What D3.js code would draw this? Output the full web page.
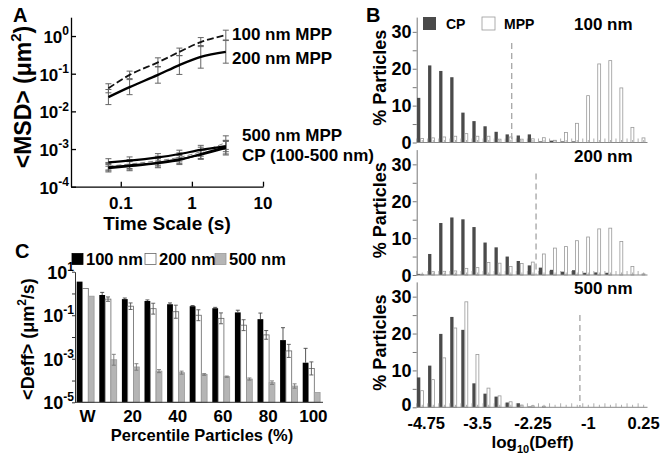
<!DOCTYPE html>
<html><head><meta charset="utf-8">
<script src="https://cdn.jsdelivr.net/npm/d3@7"></script>
<style>
body{margin:0;background:#fff}
svg{display:block}
text{font-family:"Liberation Sans",Arial,sans-serif;font-weight:bold;fill:#000}
</style>
</head><body>
<svg id="c" width="664" height="464"></svg>
<script>
// ---------------- Panel A data ----------------
const timeA = [0.067, 0.133, 0.333, 0.667, 1.333, 3.0];
const mpp100A = [0.041, 0.093, 0.2, 0.38, 0.69, 1.06];
const mpp100AErr = [0.12, 0.1, 0.12, 0.1, 0.12, 0.13];
const mpp200A = [0.024, 0.044, 0.093, 0.17, 0.28, 0.38];
const mpp200AErr = [0.2, 0.2, 0.22, 0.25, 0.3, 0.3];
const mpp500A = [0.00044, 0.00049, 0.0006, 0.00074, 0.00095, 0.0012];
const mpp500AErr = [0.1, 0.1, 0.1, 0.1, 0.12, 0.15];
const cpA1 = [0.00031, 0.00035, 0.00042, 0.00051, 0.00074, 0.00112];
const cpA2 = [0.00033, 0.00037, 0.00044, 0.00054, 0.0007, 0.00105];
const cpAErr = [0.1, 0.12, 0.12, 0.12, 0.12, 0.18];
const cpA3 = [0.00035, 0.0004, 0.00049, 0.0006, 0.00085, 0.00148];
const aYTicks = [1, 0.1, 0.01, 0.001, 0.0001];
const aYExp = ["0", "-1", "-2", "-3", "-4"];
const aXTicks = [0.1, 1, 10];
const aXLabels = ["0.1", "1", "10"];

// ---------------- Panel B data ----------------
const binCenters = [-4.75,-4.5,-4.25,-4,-3.75,-3.5,-3.25,-3,-2.75,-2.5,-2.25,-2,-1.75,-1.5,-1.25,-1,-0.75,-0.5,-0.25,0,0.25];
const bTickValues = [-4.75, -3.5, -2.25, -1, 0.25];
const bTickLabels = ["-4.75", "-3.5", "-2.25", "-1", "0.25"];
const cpB100 = [12.1,20.9,19.4,17.7,8.1,5.8,4.4,2.9,2.2,1.9,2.2,0.3,0.5,0.3,0.3,0,0,0,0,0,0];
const mppB100 = [1.1,1.25,1.5,1.7,2.4,1.7,1.7,0.9,1.5,0.9,1.0,1.3,0.6,2.7,5.2,12.7,21.3,22.2,14.8,4.1,1.25];
const cpB200 = [0.3,5.7,14.1,15.6,15.1,13.0,8.8,7.5,5.0,3.8,2.6,2.0,1.4,0.9,1.3,0.6,0.7,0.6,0,0,0];
const mppB200 = [0.2,0.9,1.0,1.1,1.8,2.0,3.4,3.2,2.3,3.1,3.5,5.7,7.3,7.7,9.3,10.3,12.5,12.7,9.1,2.3,0.3];
const cpB500 = [8.1,11.3,19.9,24.5,21.0,6.5,3.7,2.9,1.3,1.1,0.2,0,0,0,0,0,0,0,0,0,0];
const mppB500 = [4.5,7.5,13.4,21.5,28.6,14.3,5.2,3.1,1.5,0.6,0.4,0.3,0,0,0,0,0,0,0,0,0];
const bPanelNames = ["100 nm", "200 nm", "500 nm"];
const bCutoff = [-2.73, -2.18, -1.19];
const bCutoffTop = [27, 27.5, 25];
const bYTicks = [0, 10, 20, 30];
const bYMinor = [5, 15, 25];

// ---------------- Panel C data ----------------
const cCats = ["W","10","20","30","40","50","60","70","80","90","100"];
const cShownLabels = ["W","20","40","60","80","100"];
const c100 = [3.5,0.85,0.55,0.45,0.32,0.26,0.21,0.135,0.066,0.0072,0.00066];
const c200 = [1.7,0.55,0.26,0.2,0.145,0.1,0.072,0.035,0.0125,0.0023,0.00036];
const c500 = [0.75,0.0009,0.00042,0.00027,0.00023,0.00019,0.00015,0.000117,0.00008,0.000056,0.000028];
const c100Err = [0,0.12,0.05,0.05,0.06,0.03,0.04,0.1,0.28,0.57,0.66];
const c200Err = [0,0.1,0.15,0.25,0.3,0.25,0.25,0.25,0.2,0.3,0.3];
const c500Err = [0,0.25,0.15,0.07,0.07,0.04,0.03,0.05,0.08,0.1,0];
const cYTicks = [10, 0.1, 0.001, 0.00001];
const cYExp = ["1", "-1", "-3", "-5"];
const cYMinor = [1, 0.01, 0.0001];

const svg = d3.select("#c");
svg.append("rect").attr("width",664).attr("height",464).attr("fill","#fff");

function powLabel(sel, x, y, exp, fs, sfs){
  const t = sel.append("text").attr("x",x).attr("y",y).attr("text-anchor","end").attr("font-size",fs);
  t.append("tspan").text("10");
  t.append("tspan").attr("dy",-fs*0.45).attr("font-size",sfs).text(exp);
}
function styleAxis(g, color, w){
  g.selectAll("path,line").attr("stroke",color).attr("stroke-width",w);
  g.selectAll("text").remove();
}

// ================= Panel A =================
const gA = svg.append("g");
const xA = d3.scaleLog().domain([Math.pow(10,-1.7),10]).range([71,263]);
const yA = d3.scaleLog().domain([1e-4,Math.pow(10,0.5)]).range([186.7,17.2]);
gA.append("g").attr("transform","translate(71,0)")
  .call(d3.axisLeft(yA).tickValues(aYTicks).tickSize(-5).tickSizeOuter(0).tickFormat(""))
  .call(g=>styleAxis(g,"#000",1.3));
gA.append("g").attr("transform","translate(0,186.7)")
  .call(d3.axisBottom(xA).tickValues(aXTicks).tickSize(-5).tickSizeOuter(0).tickFormat(""))
  .call(g=>styleAxis(g,"#000",1.3));
aYTicks.forEach((v,i)=>powLabel(gA, 69, yA(v)+7, aYExp[i], 17, 12));
aXTicks.forEach((v,i)=>gA.append("text").attr("x",xA(v)).attr("y",208.5).attr("text-anchor","middle").attr("font-size",17).text(aXLabels[i]));
gA.append("text").attr("x",167).attr("y",230).attr("text-anchor","middle").attr("font-size",19).text("Time Scale (s)");
{
  const t = gA.append("text").attr("transform","translate(31,97) rotate(-90)").attr("text-anchor","middle").attr("font-size",23);
  t.append("tspan").text("<MSD> (\u03bcm");
  t.append("tspan").attr("dy",-10).attr("font-size",15).text("2");
  t.append("tspan").attr("dy",10).text(")");
}
gA.append("text").attr("x",13).attr("y",22).attr("font-size",20).text("A");

const seriesA = [
  {v: mpp100A, e: mpp100AErr, dash:"7,3", w:1.8, c:"#111"},
  {v: mpp200A, e: mpp200AErr, dash:null, w:2.4, c:"#000"},
  {v: cpA3, e: cpAErr, dash:"5,3", w:1, c:"#888"},
  {v: mpp500A, e: mpp500AErr, dash:null, w:2.2, c:"#000"},
  {v: cpA1, e: cpAErr, dash:null, w:2.2, c:"#000"},
  {v: cpA2, e: cpAErr, dash:null, w:1.6, c:"#000"}
];
const lineA = d3.line().x(d=>xA(d[0])).y(d=>yA(d[1])).curve(d3.curveMonotoneX);
seriesA.forEach(s=>{
  s.v.forEach((v,i)=>{
    const x = xA(timeA[i]);
    const y1 = yA(v*Math.pow(10,-s.e[i])), y2 = yA(v*Math.pow(10,s.e[i]));
    gA.append("line").attr("x1",x).attr("x2",x).attr("y1",y1).attr("y2",y2).attr("stroke","#666").attr("stroke-width",1);
    [y1,y2].forEach(y=>gA.append("line").attr("x1",x-3).attr("x2",x+3).attr("y1",y).attr("y2",y).attr("stroke","#666").attr("stroke-width",1));
  });
});
seriesA.forEach(s=>{
  gA.append("path").datum(timeA.map((t,i)=>[t,s.v[i]])).attr("d",lineA)
    .attr("fill","none").attr("stroke",s.c).attr("stroke-width",s.w)
    .attr("stroke-dasharray",s.dash);
});
gA.append("text").attr("x",232).attr("y",39.5).attr("font-size",17).text("100 nm MPP");
gA.append("text").attr("x",232).attr("y",63.5).attr("font-size",17).text("200 nm MPP");
gA.append("text").attr("x",242).attr("y",141).attr("font-size",17).text("500 nm MPP");
gA.append("text").attr("x",242).attr("y",161).attr("font-size",17).text("CP (100-500 nm)");

// ================= Panel B =================
const gB = svg.append("g");
const xB = d3.scaleLinear().domain([-4.875,0.375]).range([416.7,649.2]);
const bBottoms = [142.5, 275, 407.3];
const bData = [[cpB100,mppB100],[cpB200,mppB200],[cpB500,mppB500]];
bBottoms.forEach((bot,p)=>{
  const yB = d3.scaleLinear().domain([0,34]).range([bot, bot-125.4]);
  const g = gB.append("g");
  g.append("g").attr("transform","translate(416.7,0)")
    .call(d3.axisLeft(yB).tickValues(bYTicks.concat(bYMinor)).tickSize(4).tickSizeOuter(0).tickFormat(""))
    .call(a=>styleAxis(a,"#777",1));
  bYTicks.forEach(v=>g.append("text").attr("x",411.5).attr("y",yB(v)+(v===0&&p===2?3.5:6.5)).attr("text-anchor","end").attr("font-size",18).text(v));
  const [cp, mpp] = bData[p];
  cp.forEach((v,i)=>{ if(v>0) g.append("rect").attr("x",xB(binCenters[i]-0.125)+0.3).attr("width",3.3)
     .attr("y",yB(v)).attr("height",bot-yB(v)).attr("fill","#4a4a4a"); });
  mpp.forEach((v,i)=>{ if(v>0) g.append("rect").attr("x",xB(binCenters[i]-0.125)+3.9).attr("width",2.9)
     .attr("y",yB(v)).attr("height",bot-yB(v)).attr("fill","#fff").attr("stroke","#999").attr("stroke-width",0.8); });
  g.append("line").attr("x1",416.7).attr("x2",647.5).attr("y1",bot).attr("y2",bot).attr("stroke","#888").attr("stroke-width",1);
  binCenters.forEach(c=>{
    g.append("line").attr("x1",xB(c-0.125)).attr("x2",xB(c-0.125)).attr("y1",bot).attr("y2",bot-4).attr("stroke","#999").attr("stroke-width",0.8);
    g.append("line").attr("x1",xB(c)).attr("x2",xB(c)).attr("y1",bot).attr("y2",bot-2.5).attr("stroke","#999").attr("stroke-width",0.8);
  });
  g.append("line").attr("x1",xB(bCutoff[p])).attr("x2",xB(bCutoff[p])).attr("y1",yB(bCutoffTop[p])).attr("y2",bot)
    .attr("stroke","#aaa").attr("stroke-width",1.4).attr("stroke-dasharray","6,4");
  g.append("text").attr("x",574).attr("y",yB(34)+12.5).attr("font-size",17).text(bPanelNames[p]);
  g.append("text").attr("transform",`translate(386,${(bot+bot-125.4)/2-2}) rotate(-90)`).attr("text-anchor","middle").attr("font-size",18).text("% Particles");
});
bTickValues.forEach((v,i)=>gB.append("text").attr("x",xB(v)+(i===0?4:0)).attr("y",428.5).attr("text-anchor","middle").attr("font-size",16.5).text(bTickLabels[i]));
{
  const t = gB.append("text").attr("x",532.5).attr("y",447.5).attr("text-anchor","middle").attr("font-size",17);
  t.append("tspan").text("log");
  t.append("tspan").attr("dy",5).attr("font-size",11).text("10");
  t.append("tspan").attr("dy",-5).text("(Deff)");
}
gB.append("rect").attr("x",423).attr("y",17).attr("width",13).attr("height",13).attr("fill","#4a4a4a");
gB.append("text").attr("x",446).attr("y",28.5).attr("font-size",14).text("CP");
gB.append("rect").attr("x",482).attr("y",17).attr("width",13).attr("height",13).attr("fill","#fff").attr("stroke","#999").attr("stroke-width",0.8);
gB.append("text").attr("x",504).attr("y",28.5).attr("font-size",14).text("MPP");
gB.append("text").attr("x",366).attr("y",22).attr("font-size",20).text("B");

// ================= Panel C =================
const gC = svg.append("g");
const yC = d3.scaleLog().domain([1e-5,10]).range([402.3,271.7]);
const xC = d3.scaleBand().domain(cCats).range([76.7, 76.7+22.6*10+17.4]).paddingInner(0.23).paddingOuter(0);
const sub = xC.bandwidth()/3;
const cSeries = [
  {v:c100, e:c100Err, fill:"#000", stroke:"#000", ec:"#444", up:true},
  {v:c200, e:c200Err, fill:"#fff", stroke:"#666", ec:"#555", up:false},
  {v:c500, e:c500Err, fill:"#b5b5b5", stroke:"#9a9a9a", ec:"#777", up:false}
];
cSeries.forEach((s,k)=>{
  s.v.forEach((v,i)=>{
    const x = xC(cCats[i]) + k*sub;
    gC.append("rect").attr("x",x).attr("width",sub).attr("y",yC(v)).attr("height",yC(1e-5)-yC(v))
      .attr("fill",s.fill).attr("stroke",s.stroke).attr("stroke-width",k===0?0:0.8);
    if(s.e[i]>0){
      const cx = x+sub/2;
      const yt = yC(v*Math.pow(10,s.e[i])), yb = s.up ? yC(v) : yC(v*Math.pow(10,-s.e[i]));
      gC.append("line").attr("x1",cx).attr("x2",cx).attr("y1",yt).attr("y2",yb).attr("stroke",s.ec).attr("stroke-width",0.9);
      gC.append("line").attr("x1",cx-2).attr("x2",cx+2).attr("y1",yt).attr("y2",yt).attr("stroke",s.ec).attr("stroke-width",0.9);
      if(!s.up) gC.append("line").attr("x1",cx-2).attr("x2",cx+2).attr("y1",yb).attr("y2",yb).attr("stroke",s.ec).attr("stroke-width",0.9);
    }
  });
});
gC.append("g").attr("transform","translate(75,0)")
  .call(d3.axisLeft(yC).tickValues(cYTicks.concat(cYMinor)).tickSize(3).tickSizeOuter(0).tickFormat(""))
  .call(g=>styleAxis(g,"#333",1));
gC.append("line").attr("x1",75).attr("x2",323).attr("y1",402.3).attr("y2",402.3).attr("stroke","#333").attr("stroke-width",1);
cYTicks.forEach((v,i)=>powLabel(gC, 74, yC(v)+7, cYExp[i], 18, 12));
cShownLabels.forEach(l=>gC.append("text").attr("x",xC(l)+xC.bandwidth()/2+2).attr("y",422).attr("text-anchor","middle").attr("font-size",17).text(l));
gC.append("text").attr("x",202).attr("y",441).attr("text-anchor","middle").attr("font-size",16.5).text("Percentile Particles (%)");
{
  const t = gC.append("text").attr("transform","translate(34,339) rotate(-90)").attr("text-anchor","middle").attr("font-size",18);
  t.append("tspan").text("<Deff> (\u03bcm");
  t.append("tspan").attr("dy",-8).attr("font-size",12).text("2");
  t.append("tspan").attr("dy",8).text("/s)");
}
gC.append("text").attr("x",15).attr("y",258).attr("font-size",20).text("C");
const legC = [{x:72, fill:"#000", stroke:"#000", label:"100 nm"},{x:145, fill:"#fff", stroke:"#666", label:"200 nm"},{x:215, fill:"#b5b5b5", stroke:"#9a9a9a", label:"500 nm"}];
legC.forEach(l=>{
  gC.append("rect").attr("x",l.x).attr("y",253.5).attr("width",11).attr("height",11).attr("fill",l.fill).attr("stroke",l.stroke).attr("stroke-width",0.8);
  gC.append("text").attr("x",l.x+14).attr("y",265).attr("font-size",16.5).text(l.label);
});
</script>
</body></html>
